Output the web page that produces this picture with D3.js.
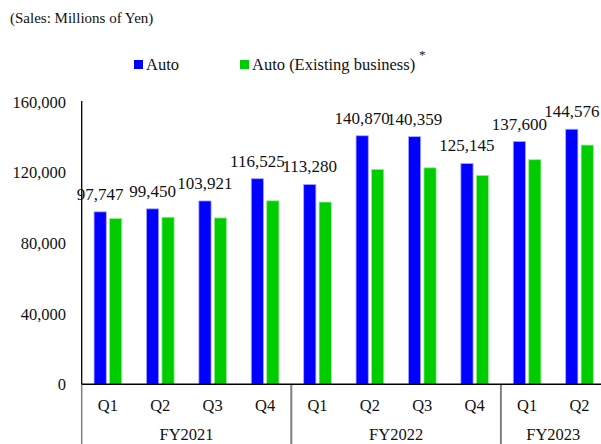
<!DOCTYPE html>
<html>
<head>
<meta charset="utf-8">
<script src="https://cdn.jsdelivr.net/npm/d3@7"></script>
<style>
  html, body { margin: 0; padding: 0; background: #fff; }
  svg { display: block; font-family: "Liberation Serif", "Times New Roman", serif; }
</style>
</head>
<body>
<svg id="chart" width="601" height="444"></svg>
<script>
// Quarterly sales, millions of yen
const fiscalYears = ["FY2021", "FY2022", "FY2023"];
const quarters = ["Q1", "Q2", "Q3", "Q4", "Q1", "Q2", "Q3", "Q4", "Q1", "Q2"];
const quarterYear = ["FY2021", "FY2021", "FY2021", "FY2021", "FY2022", "FY2022", "FY2022", "FY2022", "FY2023", "FY2023"];
const autoSales = [97747, 99450, 103921, 116525, 113280, 140870, 140359, 125145, 137600, 144576];
const existingSales = [94000, 94700, 94300, 104000, 103300, 121800, 122700, 118400, 127300, 135600];
const yTicks = [0, 40000, 80000, 120000, 160000];
const seriesNames = ["Auto", "Auto (Existing business)"];
const seriesColors = ["#0000ff", "#00cc00"];
const seriesEdges = ["#a8a8ff", "#99ee99"];

const svg = d3.select("#chart");
const left = 81.7, step = 52.4, baseY = 384.3, topY = 102;
const keys = quarters.map((q, i) => i);

const x = d3.scaleBand().domain(keys).range([left, left + step * keys.length]).paddingInner(0).paddingOuter(0);
const xs = d3.scaleBand().domain([0, 1]).range([0, x.bandwidth()]).paddingInner(0.21).paddingOuter(0.8);
const y = d3.scaleLinear().domain([0, 160000]).range([baseY, topY]);
const fmt = d3.format(",");

// Unit caption
svg.append("text").attr("x", 10).attr("y", 23).attr("font-size", 15).attr("fill", "#111")
  .text("(Sales: Millions of Yen)");

// Legend
const legendX = [134, 240];
seriesNames.forEach((name, i) => {
  svg.append("rect").attr("x", legendX[i]).attr("y", 60).attr("width", 9).attr("height", 9)
    .attr("fill", seriesColors[i]);
  svg.append("text").attr("x", legendX[i] + 12).attr("y", 70).attr("font-size", 16.5)
    .attr("fill", "#111").text(name);
});
svg.append("text").attr("x", 419).attr("y", 59).attr("font-size", 13).attr("fill", "#111").text("*");

// Y axis labels
svg.append("g").selectAll("text").data(yTicks).join("text")
  .attr("x", 66).attr("y", d => y(d)).attr("dy", "0.35em")
  .attr("text-anchor", "end").attr("font-size", 16.5).attr("fill", "#111")
  .text(d => fmt(d));

// Bars
const series = [autoSales, existingSales];
series.forEach((vals, s) => {
  svg.append("g").selectAll("rect").data(vals).join("rect")
    .attr("x", (d, i) => x(i) + xs(s))
    .attr("y", d => y(d))
    .attr("width", xs.bandwidth())
    .attr("height", d => baseY - y(d))
    .attr("fill", seriesColors[s])
    .attr("stroke", seriesEdges[s]).attr("stroke-width", 0.8);
});

// Value labels above the Auto bars
svg.append("g").selectAll("text").data(autoSales).join("text")
  .attr("x", (d, i) => x(i) + xs(0) + xs.bandwidth() / 2)
  .attr("y", d => y(d) - 12)
  .attr("text-anchor", "middle").attr("font-size", 17).attr("fill", "#111")
  .text(d => fmt(d));

// Y axis line
svg.append("line").attr("x1", left).attr("x2", left).attr("y1", topY - 1).attr("y2", baseY)
  .attr("stroke", "#000").attr("stroke-width", 1.3);

// Category axis: quarter labels, year groups and separators
svg.append("g").selectAll("text").data(keys).join("text")
  .attr("x", d => x(d) + x.bandwidth() / 2).attr("y", 405).attr("dy", "0.35em")
  .attr("text-anchor", "middle").attr("font-size", 16.5).attr("fill", "#111")
  .text(d => quarters[d]);

fiscalYears.forEach(fy => {
  const idx = keys.filter(k => quarterYear[k] === fy);
  const x0 = x(idx[0]);
  const x1 = x(idx[idx.length - 1]) + x.bandwidth();
  svg.append("text").attr("x", (x0 + x1) / 2).attr("y", 434).attr("dy", "0.35em")
    .attr("text-anchor", "middle").attr("font-size", 16.5).attr("fill", "#111").text(fy);
  svg.append("line").attr("x1", x0).attr("x2", x0).attr("y1", baseY).attr("y2", 444)
    .attr("stroke", "#808080").attr("stroke-width", fy === fiscalYears[0] ? 1.5 : 2);
});

// Baseline
svg.append("line").attr("x1", left).attr("x2", left + step * keys.length).attr("y1", baseY).attr("y2", baseY)
  .attr("stroke", "#000").attr("stroke-width", 1.5);
</script>
</body>
</html>
